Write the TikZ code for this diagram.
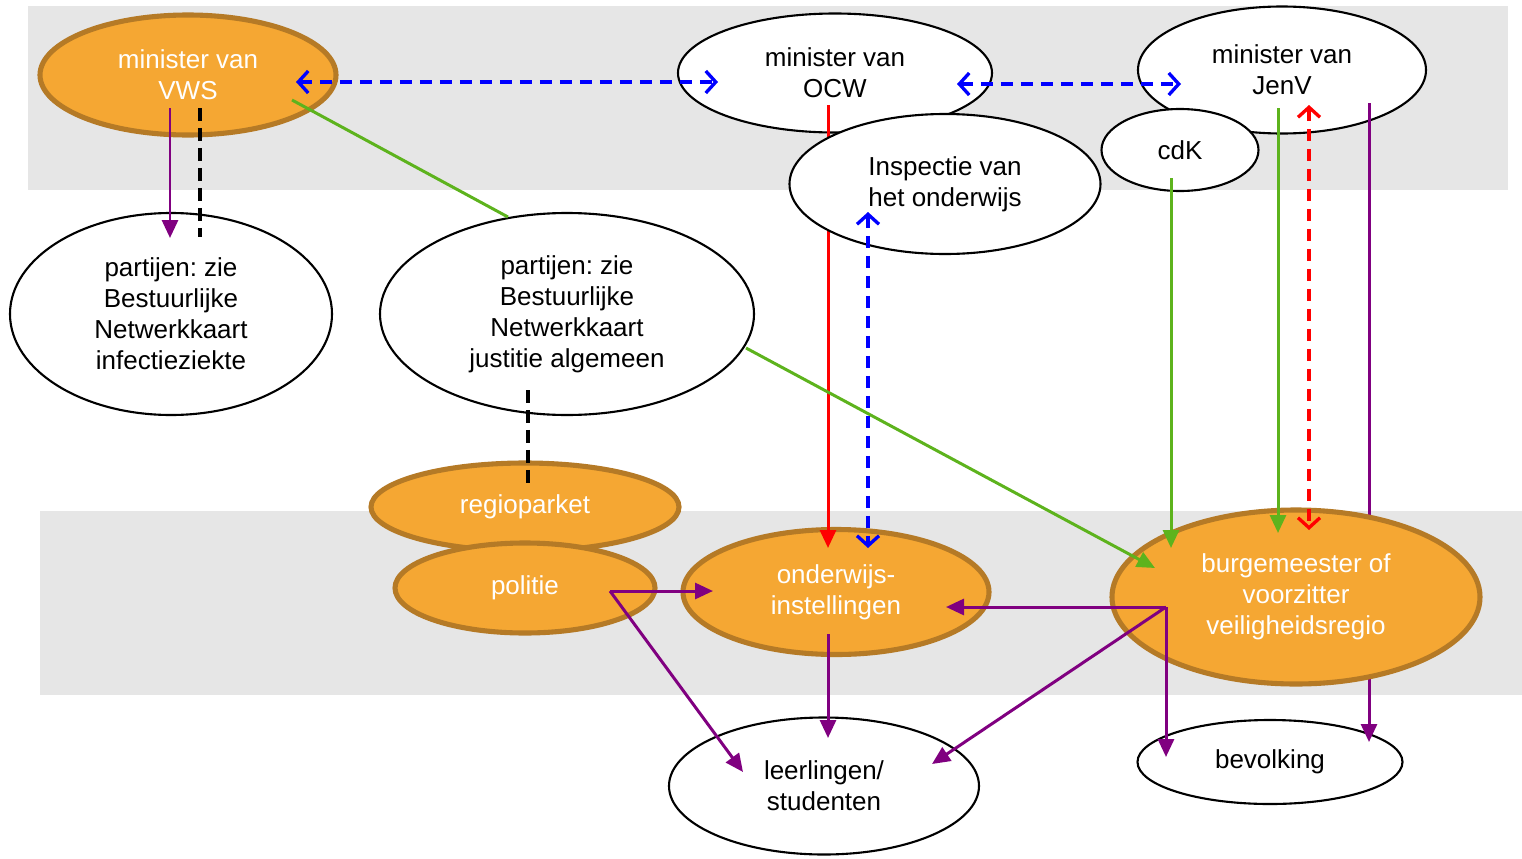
\documentclass[tikz,border=0pt]{standalone}
\usepackage{fontspec}
\setmainfont{Liberation Sans}
\usetikzlibrary{shapes.geometric,arrows.meta,calc}

\definecolor{oranje}{HTML}{F5A733}
\definecolor{bruin}{HTML}{B57A26}
\definecolor{grijs}{HTML}{E6E6E6}
\definecolor{groen}{HTML}{5DB31D}
\definecolor{paars}{HTML}{800080}

\frenchspacing

\begin{document}
\begin{tikzpicture}[
    x=0.02cm, y=-0.02cm,
    font=\fontsize{14.8}{17.6}\selectfont,
    blob/.style 2 args={ellipse, inner sep=0pt, align=center,
        minimum width=#1*0.02cm, minimum height=#2*0.02cm},
    wit/.style={draw=black, line width=1.2pt, fill=white},
    oranjeblob/.style={draw=bruin, line width=2.9pt, fill=oranje, text=white},
    pijl/.style={line width=1.7pt, -{Triangle[length=0.36cm,width=0.32cm]}},
    streep/.style={line width=1.9pt, dash pattern=on 0.24cm off 0.16cm,
        {Straight Barb[length=0.2cm,width=0.44cm]}-{Straight Barb[length=0.2cm,width=0.44cm]}},
    zwartstreep/.style={line width=1.8pt, dash pattern=on 0.26cm off 0.14cm}
]

    \useasboundingbox (0,0) rectangle (1522,859);

    % Bands
    \fill[grijs] (28,6) rectangle (1508,190);
    \fill[grijs] (40,511) rectangle (1522,695);

    % Ministers
    \node[blob={296}{120}, oranjeblob] (vws) at (188,75) {minister van\\VWS};
    \node[blob={314}{119}, wit] (ocw) at (835,73) {minister van\\OCW};
    \node[blob={288}{127}, wit] (jenv) at (1282,70) {minister van\\JenV};
    \node[blob={157}{82}, wit] (cdk) at (1180,150) {cdK};

    % Netwerkkaarten
    \node[blob={322}{202}, wit] (partijenA) at (171,314)
        {partijen: zie\\Bestuurlijke\\Netwerkkaart\\infectieziekte};
    \node[blob={374}{202}, wit] (partijenB) at (567,314)
        {partijen: zie\\Bestuurlijke\\Netwerkkaart\\justitie algemeen};

    % Regionaal
    \node[blob={308}{88}, oranjeblob] (regioparket) at (525,507) {regioparket};
    \node[blob={260}{90}, oranjeblob] (politie) at (525,588) {politie};
    \node[blob={306}{125}, oranjeblob] (onderwijs) at (836,592) {onderwijs-\\instellingen};
    \node[blob={310}{137}, wit] (leerlingen) at (824,786) {leerlingen/\\studenten};
    \node[blob={265}{84}, wit] (bevolking) at (1270,762) {bevolking};

    % Lines that pass behind
    \draw[pijl, red] ($(ocw)+(-7,32)$) -- ($(onderwijs)+(-8,-44)$);
    \draw[pijl, paars] ($(jenv)+(87,33)$) -- ($(bevolking)+(99,-20)$);

    \node[blob={311}{140}, wit] (inspectie) at (945,184) {Inspectie van\\het onderwijs};
    \node[blob={368}{174}, oranjeblob] (burgemeester) at (1296,597)
        {burgemeester of\\voorzitter\\veiligheidsregio};

    % Between ministers
    \draw[streep, blue] ($(vws)+(108,7)$) -- ($(ocw)+(-117,9)$);
    \draw[streep, blue] ($(ocw)+(122,11)$) -- ($(jenv)+(-101,14)$);

    % VWS
    \draw[pijl, paars] ($(vws)+(-18,33)$) -- ($(partijenA)+(-1,-76)$);
    \draw[zwartstreep] ($(vws)+(12,33)$) -- ($(partijenA)+(29,-77)$);
    \draw[line width=1.7pt, groen] ($(vws)+(104,25)$) -- ($(partijenB)+(-59,-97)$);

    % Justitie
    \draw[pijl, groen] ($(partijenB)+(179,34)$) -- ($(burgemeester)+(-141,-29)$);
    \draw[zwartstreep] ($(partijenB)+(-39,76)$) -- ($(regioparket)+(3,-22)$);

    % OCW
    \draw[streep, blue] ($(inspectie)+(-77,28)$) -- ($(onderwijs)+(32,-44)$);

    % JenV
    \draw[pijl, groen] ($(cdk)+(-9,28)$) -- ($(burgemeester)+(-125,-49)$);
    \draw[pijl, groen] ($(jenv)+(-4,38)$) -- ($(burgemeester)+(-18,-64)$);
    \draw[streep, red] ($(jenv)+(27,35)$) -- ($(burgemeester)+(13,-67)$);

    % Politie
    \coordinate (politieuit) at ($(politie)+(85,3)$);
    \draw[pijl, paars] (politieuit) -- ($(onderwijs)+(-123,-1)$);
    \draw[pijl, paars] (politieuit) -- ($(leerlingen)+(-81,-14)$);

    % Onderwijs
    \draw[pijl, paars] ($(onderwijs)+(-8,42)$) -- ($(leerlingen)+(4,-48)$);

    % Burgemeester
    \coordinate (burguit) at ($(burgemeester)+(-130,10)$);
    \draw[pijl, paars] (burguit) -- ($(onderwijs)+(110,15)$);
    \draw[pijl, paars] (burguit) -- ($(bevolking)+(-104,-5)$);
    \draw[pijl, paars] (burguit) -- ($(leerlingen)+(108,-22)$);

\end{tikzpicture}
\end{document}
